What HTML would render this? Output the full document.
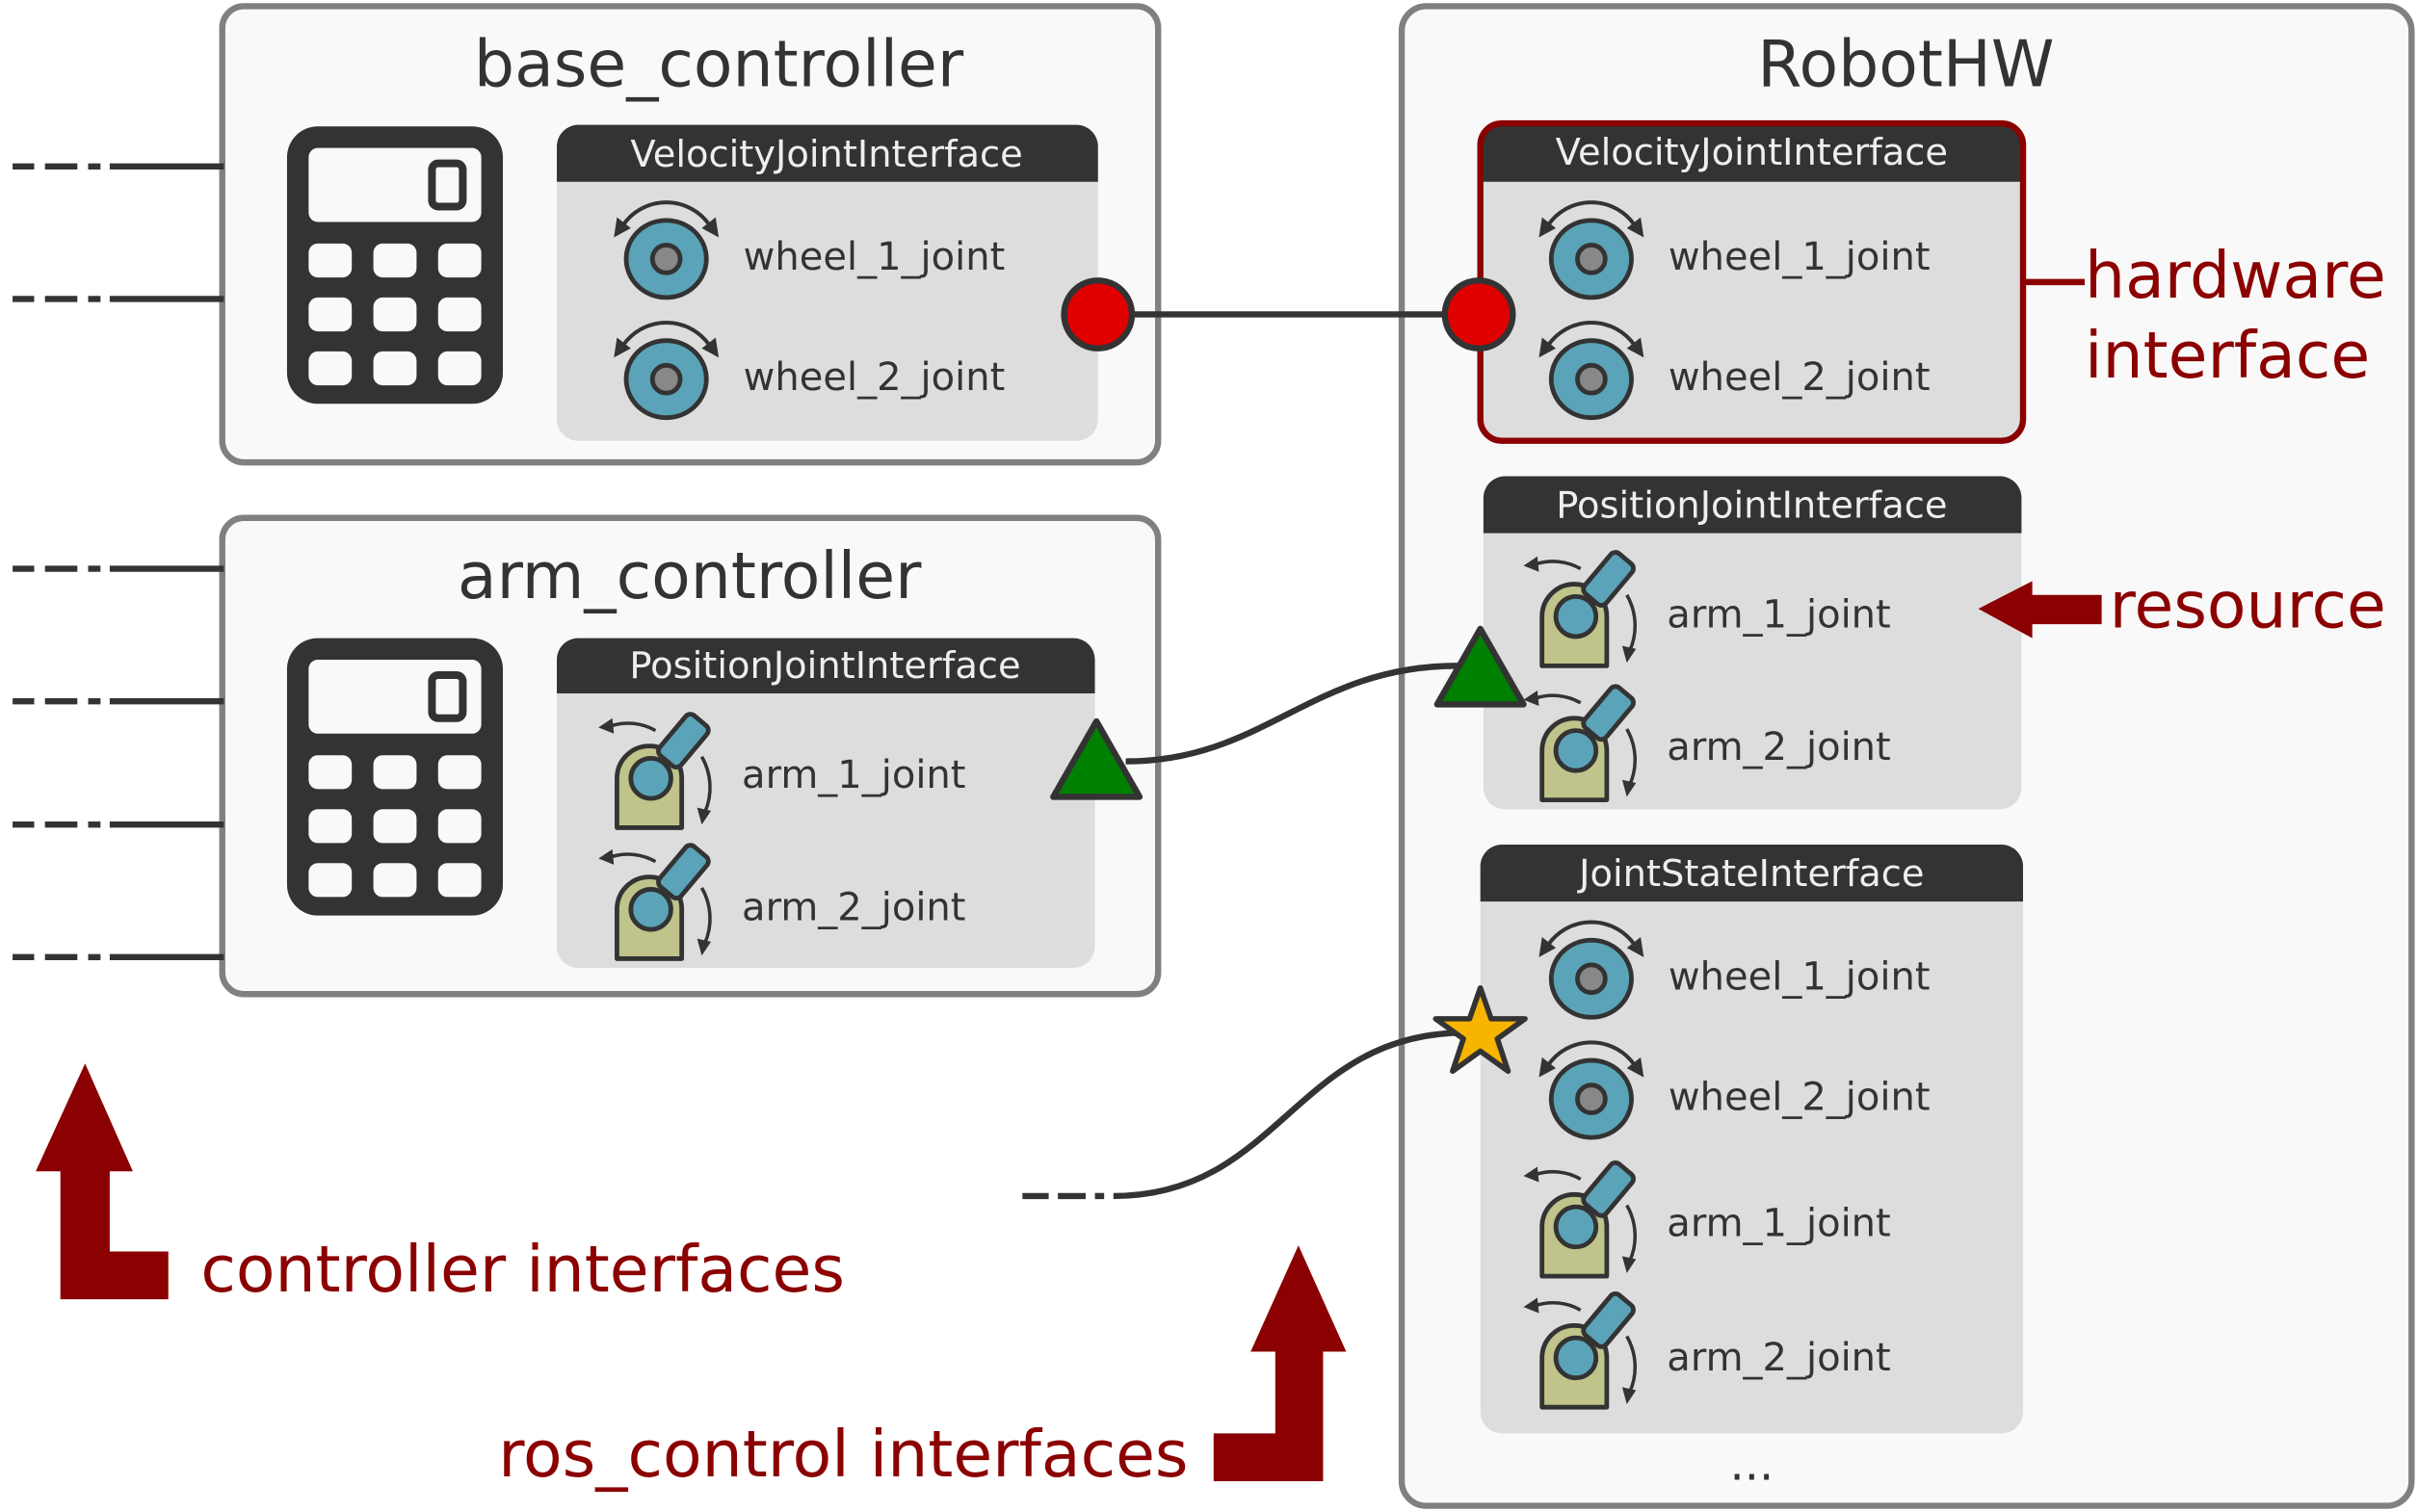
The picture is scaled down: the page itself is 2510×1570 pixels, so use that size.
<!DOCTYPE html>
<html><head><meta charset="utf-8"><style>
html,body{margin:0;padding:0;background:#fff;}
svg{display:block;}
text{font-family:"DejaVu Sans","Liberation Sans",sans-serif;}
</style></head><body>
<svg width="2510" height="1570" viewBox="0 0 1568 981" xmlns="http://www.w3.org/2000/svg">
<defs>
<g id="wheel">
  <path d="M-28,-22 A34,34 0 0 1 28,-22" fill="none" stroke="#333" stroke-width="2.5"/>
  <path d="M-34,-14 L-32,-27 L-23,-20 Z" fill="#333"/>
  <path d="M34,-14 L32,-27 L23,-20 Z" fill="#333"/>
  <ellipse cx="0" cy="0" rx="26" ry="25" fill="#5aa3b8" stroke="#333" stroke-width="3"/>
  <ellipse cx="0" cy="0" rx="9" ry="9" fill="#888" stroke="#333" stroke-width="3"/>
</g>
<g id="arm">
  <path d="M-22,32 L-22,0 A21,21 0 0 1 20,0 L20,32 Z" fill="#c0c38a" stroke="#333" stroke-width="3" stroke-linejoin="round"/>
  <g transform="translate(14,-16) rotate(-50)"><rect x="-6" y="-9" width="34" height="18" rx="4" fill="#5aa3b8" stroke="#333" stroke-width="3"/></g>
  <circle cx="0" cy="0" r="13" fill="#5aa3b8" stroke="#333" stroke-width="3"/>
  <path d="M3,-31 A36,36 0 0 0 -26,-34" fill="none" stroke="#333" stroke-width="2.2"/>
  <path d="M-34,-33 L-25,-39 L-24,-29 Z" fill="#333"/>
  <path d="M33,-14 A40,40 0 0 1 35,22" fill="none" stroke="#333" stroke-width="2.2"/>
  <path d="M30,19 L39,21 L33,30 Z" fill="#333"/>
</g>
<g id="calc">
  <rect x="0" y="0" width="140" height="180" rx="20" fill="#333"/>
  <rect x="14" y="14" width="112" height="48" rx="6" fill="#f9f9f9"/>
  <rect x="94" y="24" width="20" height="28" rx="4" fill="#f9f9f9" stroke="#333" stroke-width="5"/>
  <g fill="#f9f9f9">
  <rect x="14" y="76" width="28" height="22" rx="6"/><rect x="56" y="76" width="28" height="22" rx="6"/><rect x="98" y="76" width="28" height="22" rx="6"/>
  <rect x="14" y="111" width="28" height="22" rx="6"/><rect x="56" y="111" width="28" height="22" rx="6"/><rect x="98" y="111" width="28" height="22" rx="6"/>
  <rect x="14" y="146" width="28" height="22" rx="6"/><rect x="56" y="146" width="28" height="22" rx="6"/><rect x="98" y="146" width="28" height="22" rx="6"/>
  </g>
</g>
<g id="dash">
  <line x1="8" y1="0" x2="22" y2="0" stroke="#333" stroke-width="4"/>
  <line x1="29" y1="0" x2="50" y2="0" stroke="#333" stroke-width="4"/>
  <line x1="57" y1="0" x2="65" y2="0" stroke="#333" stroke-width="4"/>
  <line x1="71" y1="0" x2="145" y2="0" stroke="#333" stroke-width="4"/>
</g>
</defs>

<rect x="144" y="4" width="607" height="296" rx="14" fill="#f9f9f9" stroke="#808080" stroke-width="4"/>
<text x="466" y="56" font-size="41.5" fill="#333" text-anchor="middle">base_controller</text>
<use href="#calc" x="186" y="82"/>
<path d="M361,118 L361,95 A14,14 0 0 1 375,81 L698,81 A14,14 0 0 1 712,95 L712,118 Z" fill="#333"/>
<path d="M361,118 L712,118 L712,272 A14,14 0 0 1 698,286 L375,286 A14,14 0 0 1 361,272 Z" fill="#dddddd"/>
<text x="536" y="108" font-size="24" fill="#eee" text-anchor="middle">VelocityJointInterface</text>
<use href="#wheel" x="432" y="168"/>
<use href="#wheel" x="432" y="246"/>
<text x="482" y="175" font-size="25" fill="#333">wheel_1_joint</text>
<text x="482" y="253" font-size="25" fill="#333">wheel_2_joint</text>
<use href="#dash" x="0" y="108"/>
<use href="#dash" x="0" y="194"/>

<rect x="144" y="336" width="607" height="309" rx="14" fill="#f9f9f9" stroke="#808080" stroke-width="4"/>
<text x="447" y="388" font-size="41.5" fill="#333" text-anchor="middle">arm_controller</text>
<use href="#calc" x="186" y="414"/>
<path d="M361,450 L361,428 A14,14 0 0 1 375,414 L696,414 A14,14 0 0 1 710,428 L710,450 Z" fill="#333"/>
<path d="M361,450 L710,450 L710,614 A14,14 0 0 1 696,628 L375,628 A14,14 0 0 1 361,614 Z" fill="#dddddd"/>
<text x="535" y="440" font-size="24" fill="#eee" text-anchor="middle">PositionJointInterface</text>
<use href="#arm" x="422" y="505"/>
<use href="#arm" x="422" y="590"/>
<text x="481" y="511" font-size="25" fill="#333">arm_1_joint</text>
<text x="481" y="597" font-size="25" fill="#333">arm_2_joint</text>
<use href="#dash" x="0" y="369"/>
<use href="#dash" x="0" y="455"/>
<use href="#dash" x="0" y="535"/>
<use href="#dash" x="0" y="621"/>

<rect x="909" y="4" width="655" height="973" rx="16" fill="#f9f9f9" stroke="#808080" stroke-width="4"/>
<text x="1236" y="56" font-size="41.5" fill="#333" text-anchor="middle">RobotHW</text>

<path d="M960,118 L960,94 A14,14 0 0 1 974,80 L1298,80 A14,14 0 0 1 1312,94 L1312,118 Z" fill="#333"/>
<path d="M960,118 L1312,118 L1312,272 A14,14 0 0 1 1298,286 L974,286 A14,14 0 0 1 960,272 Z" fill="#dddddd"/>
<rect x="960" y="80" width="352" height="206" rx="14" fill="none" stroke="#8b0000" stroke-width="4"/>
<text x="1136" y="107" font-size="24" fill="#eee" text-anchor="middle">VelocityJointInterface</text>
<use href="#wheel" x="1032" y="168"/>
<use href="#wheel" x="1032" y="246"/>
<text x="1082" y="175" font-size="25" fill="#333">wheel_1_joint</text>
<text x="1082" y="253" font-size="25" fill="#333">wheel_2_joint</text>
<line x1="1312" y1="183" x2="1352" y2="183" stroke="#8b0000" stroke-width="4"/>
<text x="1352" y="193" font-size="41.5" fill="#8b0000">hardware</text>
<text x="1352" y="245" font-size="41.5" fill="#8b0000">interface</text>

<path d="M962,346 L962,323 A14,14 0 0 1 976,309 L1297,309 A14,14 0 0 1 1311,323 L1311,346 Z" fill="#333"/>
<path d="M962,346 L1311,346 L1311,511 A14,14 0 0 1 1297,525 L976,525 A14,14 0 0 1 962,511 Z" fill="#dddddd"/>
<text x="1136" y="336" font-size="24" fill="#eee" text-anchor="middle">PositionJointInterface</text>
<use href="#arm" x="1022" y="400"/>
<use href="#arm" x="1022" y="487"/>
<text x="1081" y="407" font-size="25" fill="#333">arm_1_joint</text>
<text x="1081" y="493" font-size="25" fill="#333">arm_2_joint</text>
<path d="M1283,395 L1318,377 L1318,386 L1363,386 L1363,405 L1318,405 L1318,414 Z" fill="#8b0000"/>
<text x="1368" y="407" font-size="41.5" fill="#8b0000">resource</text>

<path d="M960,585 L960,562 A14,14 0 0 1 974,548 L1298,548 A14,14 0 0 1 1312,562 L1312,585 Z" fill="#333"/>
<path d="M960,585 L1312,585 L1312,916 A14,14 0 0 1 1298,930 L974,930 A14,14 0 0 1 960,916 Z" fill="#dddddd"/>
<text x="1136" y="575" font-size="24" fill="#eee" text-anchor="middle">JointStateInterface</text>
<use href="#wheel" x="1032" y="635"/>
<use href="#wheel" x="1032" y="713"/>
<use href="#arm" x="1022" y="796"/>
<use href="#arm" x="1022" y="881"/>
<text x="1082" y="642" font-size="25" fill="#333">wheel_1_joint</text>
<text x="1082" y="720" font-size="25" fill="#333">wheel_2_joint</text>
<text x="1081" y="802" font-size="25" fill="#333">arm_1_joint</text>
<text x="1081" y="889" font-size="25" fill="#333">arm_2_joint</text>
<text x="1136" y="960" font-size="30" fill="#333" text-anchor="middle">...</text>

<line x1="712" y1="204" x2="959" y2="204" stroke="#333" stroke-width="4"/>
<circle cx="712" cy="204" r="22" fill="#e00000" stroke="#333" stroke-width="4"/>
<circle cx="959" cy="204" r="22" fill="#e00000" stroke="#333" stroke-width="4"/>
<path d="M730,494 C820,494 850,432 945,432" fill="none" stroke="#333" stroke-width="4"/>
<path d="M683,517 L739,517 L711,468 Z" fill="#008000" stroke="#333" stroke-width="4" stroke-linejoin="round"/>
<path d="M932,457 L988,457 L960,408 Z" fill="#008000" stroke="#333" stroke-width="4" stroke-linejoin="round"/>
<line x1="663" y1="776" x2="680" y2="776" stroke="#333" stroke-width="4"/>
<line x1="686" y1="776" x2="704" y2="776" stroke="#333" stroke-width="4"/>
<line x1="710" y1="776" x2="716" y2="776" stroke="#333" stroke-width="4"/>
<path d="M722,776 C830,776 840,670 950,670" fill="none" stroke="#333" stroke-width="4"/>
<path d="M960,641 L967,661 L989,661 L971,674 L978,695 L960,682 L942,695 L949,674 L931,661 L953,661 Z" fill="#f7b500" stroke="#333" stroke-width="3.5" stroke-linejoin="round"/>

<path d="M55,690 L86,760 L71,760 L71,812 L109,812 L109,843 L39,843 L39,760 L23,760 Z" fill="#8b0000"/>
<text x="130" y="838" font-size="41.5" fill="#8b0000">controller interfaces</text>
<path d="M842,808 L873,877 L858,877 L858,961 L787,961 L787,930 L827,930 L827,877 L811,877 Z" fill="#8b0000"/>
<text x="323" y="958" font-size="41.5" fill="#8b0000">ros_control interfaces</text>
</svg>
</body></html>
